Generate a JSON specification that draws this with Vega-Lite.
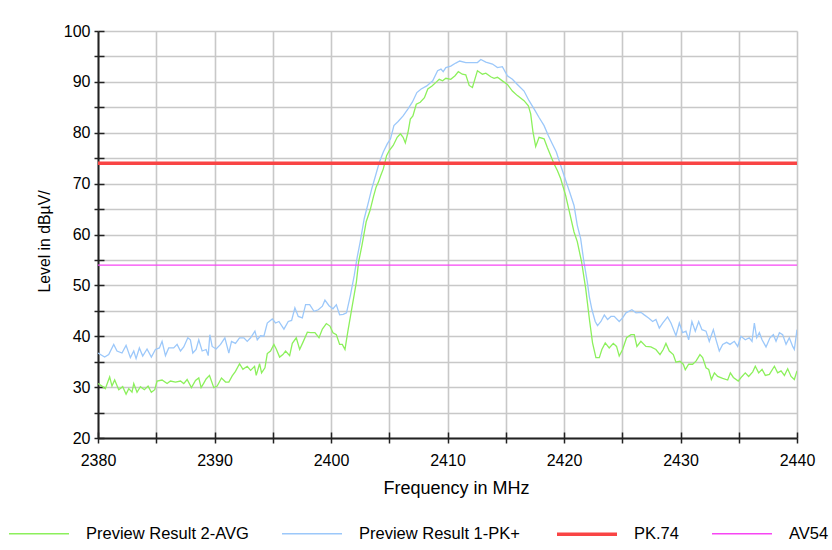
{
  "$schema": "https://vega.github.io/schema/vega-lite/v6.json",
  "width": 699,
  "height": 407,
  "autosize": {"type": "none"},
  "padding": {"left": 98, "top": 31, "right": 35, "bottom": 112},
  "background": "white",
  "config": {
    "view": {"stroke": null},
    "font": "Liberation Sans",
    "axis": {"labelFont": "Liberation Sans", "titleFont": "Liberation Sans", "labelFontSize": 16, "titleFontSize": 16.5, "titleFontWeight": "normal", "labelColor": "black", "titleColor": "black"},
    "legend": {
      "orient": "none", "legendX": -91, "legendY": 471, "direction": "horizontal", "columns": 4,
      "symbolType": "stroke", "symbolSize": 3600, "labelFontSize": 16.5, "labelFont": "Liberation Sans", "labelLimit": 400,
      "labelColor": "black", "columnPadding": 30, "labelOffset": 15, "padding": 0, "title": null
    }
  },
  "datasets": {
    "traces": [
      {"f": 2380.0, "v": 30.7, "s": "Preview Result 2-AVG"},
      {"f": 2380.34, "v": 30.2, "s": "Preview Result 2-AVG"},
      {"f": 2380.63, "v": 29.7, "s": "Preview Result 2-AVG"},
      {"f": 2381.0, "v": 32.0, "s": "Preview Result 2-AVG"},
      {"f": 2381.2, "v": 30.2, "s": "Preview Result 2-AVG"},
      {"f": 2381.43, "v": 31.4, "s": "Preview Result 2-AVG"},
      {"f": 2381.78, "v": 29.5, "s": "Preview Result 2-AVG"},
      {"f": 2382.12, "v": 30.1, "s": "Preview Result 2-AVG"},
      {"f": 2382.41, "v": 28.6, "s": "Preview Result 2-AVG"},
      {"f": 2382.64, "v": 29.7, "s": "Preview Result 2-AVG"},
      {"f": 2382.92, "v": 29.0, "s": "Preview Result 2-AVG"},
      {"f": 2383.07, "v": 30.7, "s": "Preview Result 2-AVG"},
      {"f": 2383.35, "v": 29.0, "s": "Preview Result 2-AVG"},
      {"f": 2383.64, "v": 30.1, "s": "Preview Result 2-AVG"},
      {"f": 2383.98, "v": 29.5, "s": "Preview Result 2-AVG"},
      {"f": 2384.3, "v": 30.2, "s": "Preview Result 2-AVG"},
      {"f": 2384.58, "v": 29.0, "s": "Preview Result 2-AVG"},
      {"f": 2384.87, "v": 29.5, "s": "Preview Result 2-AVG"},
      {"f": 2385.07, "v": 31.2, "s": "Preview Result 2-AVG"},
      {"f": 2385.5, "v": 31.4, "s": "Preview Result 2-AVG"},
      {"f": 2385.93, "v": 30.7, "s": "Preview Result 2-AVG"},
      {"f": 2386.22, "v": 31.2, "s": "Preview Result 2-AVG"},
      {"f": 2386.65, "v": 31.0, "s": "Preview Result 2-AVG"},
      {"f": 2387.08, "v": 31.2, "s": "Preview Result 2-AVG"},
      {"f": 2387.36, "v": 30.7, "s": "Preview Result 2-AVG"},
      {"f": 2387.65, "v": 31.5, "s": "Preview Result 2-AVG"},
      {"f": 2388.02, "v": 29.9, "s": "Preview Result 2-AVG"},
      {"f": 2388.37, "v": 31.3, "s": "Preview Result 2-AVG"},
      {"f": 2388.65, "v": 31.8, "s": "Preview Result 2-AVG"},
      {"f": 2388.85, "v": 29.9, "s": "Preview Result 2-AVG"},
      {"f": 2389.08, "v": 30.8, "s": "Preview Result 2-AVG"},
      {"f": 2389.28, "v": 31.6, "s": "Preview Result 2-AVG"},
      {"f": 2389.57, "v": 32.3, "s": "Preview Result 2-AVG"},
      {"f": 2389.94, "v": 29.9, "s": "Preview Result 2-AVG"},
      {"f": 2390.23, "v": 30.2, "s": "Preview Result 2-AVG"},
      {"f": 2390.6, "v": 31.8, "s": "Preview Result 2-AVG"},
      {"f": 2390.95, "v": 31.0, "s": "Preview Result 2-AVG"},
      {"f": 2391.23, "v": 31.0, "s": "Preview Result 2-AVG"},
      {"f": 2391.52, "v": 32.2, "s": "Preview Result 2-AVG"},
      {"f": 2391.8, "v": 33.1, "s": "Preview Result 2-AVG"},
      {"f": 2392.15, "v": 34.6, "s": "Preview Result 2-AVG"},
      {"f": 2392.44, "v": 33.5, "s": "Preview Result 2-AVG"},
      {"f": 2392.81, "v": 34.1, "s": "Preview Result 2-AVG"},
      {"f": 2393.1, "v": 33.3, "s": "Preview Result 2-AVG"},
      {"f": 2393.44, "v": 34.1, "s": "Preview Result 2-AVG"},
      {"f": 2393.58, "v": 32.3, "s": "Preview Result 2-AVG"},
      {"f": 2393.87, "v": 34.6, "s": "Preview Result 2-AVG"},
      {"f": 2394.04, "v": 32.8, "s": "Preview Result 2-AVG"},
      {"f": 2394.33, "v": 33.8, "s": "Preview Result 2-AVG"},
      {"f": 2394.53, "v": 36.6, "s": "Preview Result 2-AVG"},
      {"f": 2394.81, "v": 37.1, "s": "Preview Result 2-AVG"},
      {"f": 2395.1, "v": 38.4, "s": "Preview Result 2-AVG"},
      {"f": 2395.3, "v": 37.5, "s": "Preview Result 2-AVG"},
      {"f": 2395.59, "v": 35.9, "s": "Preview Result 2-AVG"},
      {"f": 2395.87, "v": 36.4, "s": "Preview Result 2-AVG"},
      {"f": 2396.1, "v": 37.1, "s": "Preview Result 2-AVG"},
      {"f": 2396.45, "v": 36.2, "s": "Preview Result 2-AVG"},
      {"f": 2396.68, "v": 38.6, "s": "Preview Result 2-AVG"},
      {"f": 2397.02, "v": 39.7, "s": "Preview Result 2-AVG"},
      {"f": 2397.31, "v": 37.4, "s": "Preview Result 2-AVG"},
      {"f": 2397.59, "v": 38.8, "s": "Preview Result 2-AVG"},
      {"f": 2397.97, "v": 40.8, "s": "Preview Result 2-AVG"},
      {"f": 2398.25, "v": 40.7, "s": "Preview Result 2-AVG"},
      {"f": 2398.62, "v": 40.7, "s": "Preview Result 2-AVG"},
      {"f": 2398.97, "v": 39.7, "s": "Preview Result 2-AVG"},
      {"f": 2399.26, "v": 41.4, "s": "Preview Result 2-AVG"},
      {"f": 2399.6, "v": 42.5, "s": "Preview Result 2-AVG"},
      {"f": 2399.91, "v": 42.0, "s": "Preview Result 2-AVG"},
      {"f": 2400.17, "v": 40.7, "s": "Preview Result 2-AVG"},
      {"f": 2400.46, "v": 40.3, "s": "Preview Result 2-AVG"},
      {"f": 2400.74, "v": 38.4, "s": "Preview Result 2-AVG"},
      {"f": 2400.97, "v": 38.4, "s": "Preview Result 2-AVG"},
      {"f": 2401.2, "v": 37.4, "s": "Preview Result 2-AVG"},
      {"f": 2401.45, "v": 41.0, "s": "Preview Result 2-AVG"},
      {"f": 2401.75, "v": 45.0, "s": "Preview Result 2-AVG"},
      {"f": 2402.0, "v": 48.3, "s": "Preview Result 2-AVG"},
      {"f": 2402.18, "v": 50.7, "s": "Preview Result 2-AVG"},
      {"f": 2402.37, "v": 54.6, "s": "Preview Result 2-AVG"},
      {"f": 2402.66, "v": 57.9, "s": "Preview Result 2-AVG"},
      {"f": 2403.02, "v": 62.5, "s": "Preview Result 2-AVG"},
      {"f": 2403.36, "v": 64.8, "s": "Preview Result 2-AVG"},
      {"f": 2403.64, "v": 67.4, "s": "Preview Result 2-AVG"},
      {"f": 2403.87, "v": 69.3, "s": "Preview Result 2-AVG"},
      {"f": 2404.07, "v": 70.3, "s": "Preview Result 2-AVG"},
      {"f": 2404.27, "v": 71.6, "s": "Preview Result 2-AVG"},
      {"f": 2404.49, "v": 72.9, "s": "Preview Result 2-AVG"},
      {"f": 2404.77, "v": 75.5, "s": "Preview Result 2-AVG"},
      {"f": 2405.0, "v": 76.5, "s": "Preview Result 2-AVG"},
      {"f": 2405.34, "v": 77.5, "s": "Preview Result 2-AVG"},
      {"f": 2405.68, "v": 79.1, "s": "Preview Result 2-AVG"},
      {"f": 2405.96, "v": 79.8, "s": "Preview Result 2-AVG"},
      {"f": 2406.19, "v": 79.1, "s": "Preview Result 2-AVG"},
      {"f": 2406.38, "v": 78.0, "s": "Preview Result 2-AVG"},
      {"f": 2406.61, "v": 80.1, "s": "Preview Result 2-AVG"},
      {"f": 2406.81, "v": 82.7, "s": "Preview Result 2-AVG"},
      {"f": 2407.03, "v": 83.3, "s": "Preview Result 2-AVG"},
      {"f": 2407.32, "v": 85.6, "s": "Preview Result 2-AVG"},
      {"f": 2407.66, "v": 86.0, "s": "Preview Result 2-AVG"},
      {"f": 2408.02, "v": 86.9, "s": "Preview Result 2-AVG"},
      {"f": 2408.31, "v": 88.6, "s": "Preview Result 2-AVG"},
      {"f": 2408.67, "v": 89.2, "s": "Preview Result 2-AVG"},
      {"f": 2409.01, "v": 89.9, "s": "Preview Result 2-AVG"},
      {"f": 2409.29, "v": 90.5, "s": "Preview Result 2-AVG"},
      {"f": 2409.58, "v": 90.2, "s": "Preview Result 2-AVG"},
      {"f": 2409.86, "v": 90.7, "s": "Preview Result 2-AVG"},
      {"f": 2410.28, "v": 90.5, "s": "Preview Result 2-AVG"},
      {"f": 2410.65, "v": 91.2, "s": "Preview Result 2-AVG"},
      {"f": 2410.93, "v": 92.0, "s": "Preview Result 2-AVG"},
      {"f": 2411.27, "v": 91.5, "s": "Preview Result 2-AVG"},
      {"f": 2411.57, "v": 91.4, "s": "Preview Result 2-AVG"},
      {"f": 2411.86, "v": 89.3, "s": "Preview Result 2-AVG"},
      {"f": 2412.14, "v": 88.9, "s": "Preview Result 2-AVG"},
      {"f": 2412.57, "v": 92.2, "s": "Preview Result 2-AVG"},
      {"f": 2413.0, "v": 91.5, "s": "Preview Result 2-AVG"},
      {"f": 2413.29, "v": 91.7, "s": "Preview Result 2-AVG"},
      {"f": 2413.71, "v": 91.0, "s": "Preview Result 2-AVG"},
      {"f": 2414.0, "v": 90.7, "s": "Preview Result 2-AVG"},
      {"f": 2414.29, "v": 90.9, "s": "Preview Result 2-AVG"},
      {"f": 2414.71, "v": 90.2, "s": "Preview Result 2-AVG"},
      {"f": 2415.14, "v": 89.5, "s": "Preview Result 2-AVG"},
      {"f": 2415.57, "v": 88.2, "s": "Preview Result 2-AVG"},
      {"f": 2416.0, "v": 87.3, "s": "Preview Result 2-AVG"},
      {"f": 2416.57, "v": 86.3, "s": "Preview Result 2-AVG"},
      {"f": 2416.94, "v": 85.3, "s": "Preview Result 2-AVG"},
      {"f": 2417.14, "v": 83.7, "s": "Preview Result 2-AVG"},
      {"f": 2417.34, "v": 80.1, "s": "Preview Result 2-AVG"},
      {"f": 2417.57, "v": 77.3, "s": "Preview Result 2-AVG"},
      {"f": 2417.86, "v": 79.1, "s": "Preview Result 2-AVG"},
      {"f": 2418.29, "v": 78.8, "s": "Preview Result 2-AVG"},
      {"f": 2418.57, "v": 77.1, "s": "Preview Result 2-AVG"},
      {"f": 2418.86, "v": 75.5, "s": "Preview Result 2-AVG"},
      {"f": 2419.14, "v": 73.9, "s": "Preview Result 2-AVG"},
      {"f": 2419.43, "v": 72.6, "s": "Preview Result 2-AVG"},
      {"f": 2419.71, "v": 71.0, "s": "Preview Result 2-AVG"},
      {"f": 2420.14, "v": 67.7, "s": "Preview Result 2-AVG"},
      {"f": 2420.43, "v": 64.8, "s": "Preview Result 2-AVG"},
      {"f": 2420.86, "v": 60.5, "s": "Preview Result 2-AVG"},
      {"f": 2421.14, "v": 58.6, "s": "Preview Result 2-AVG"},
      {"f": 2421.51, "v": 54.6, "s": "Preview Result 2-AVG"},
      {"f": 2421.86, "v": 49.4, "s": "Preview Result 2-AVG"},
      {"f": 2422.2, "v": 43.0, "s": "Preview Result 2-AVG"},
      {"f": 2422.45, "v": 38.7, "s": "Preview Result 2-AVG"},
      {"f": 2422.74, "v": 35.8, "s": "Preview Result 2-AVG"},
      {"f": 2423.03, "v": 35.8, "s": "Preview Result 2-AVG"},
      {"f": 2423.25, "v": 37.4, "s": "Preview Result 2-AVG"},
      {"f": 2423.54, "v": 38.7, "s": "Preview Result 2-AVG"},
      {"f": 2423.88, "v": 37.7, "s": "Preview Result 2-AVG"},
      {"f": 2424.23, "v": 38.6, "s": "Preview Result 2-AVG"},
      {"f": 2424.51, "v": 38.0, "s": "Preview Result 2-AVG"},
      {"f": 2424.74, "v": 36.1, "s": "Preview Result 2-AVG"},
      {"f": 2425.03, "v": 37.4, "s": "Preview Result 2-AVG"},
      {"f": 2425.37, "v": 39.7, "s": "Preview Result 2-AVG"},
      {"f": 2425.75, "v": 40.3, "s": "Preview Result 2-AVG"},
      {"f": 2426.03, "v": 40.3, "s": "Preview Result 2-AVG"},
      {"f": 2426.26, "v": 38.0, "s": "Preview Result 2-AVG"},
      {"f": 2426.6, "v": 39.0, "s": "Preview Result 2-AVG"},
      {"f": 2427.03, "v": 38.0, "s": "Preview Result 2-AVG"},
      {"f": 2427.46, "v": 37.9, "s": "Preview Result 2-AVG"},
      {"f": 2427.89, "v": 37.4, "s": "Preview Result 2-AVG"},
      {"f": 2428.24, "v": 36.4, "s": "Preview Result 2-AVG"},
      {"f": 2428.52, "v": 37.4, "s": "Preview Result 2-AVG"},
      {"f": 2428.75, "v": 38.6, "s": "Preview Result 2-AVG"},
      {"f": 2429.04, "v": 37.1, "s": "Preview Result 2-AVG"},
      {"f": 2429.38, "v": 36.4, "s": "Preview Result 2-AVG"},
      {"f": 2429.61, "v": 34.9, "s": "Preview Result 2-AVG"},
      {"f": 2429.95, "v": 35.1, "s": "Preview Result 2-AVG"},
      {"f": 2430.24, "v": 34.5, "s": "Preview Result 2-AVG"},
      {"f": 2430.41, "v": 33.4, "s": "Preview Result 2-AVG"},
      {"f": 2430.7, "v": 34.5, "s": "Preview Result 2-AVG"},
      {"f": 2431.04, "v": 34.5, "s": "Preview Result 2-AVG"},
      {"f": 2431.33, "v": 35.1, "s": "Preview Result 2-AVG"},
      {"f": 2431.67, "v": 36.4, "s": "Preview Result 2-AVG"},
      {"f": 2431.9, "v": 35.8, "s": "Preview Result 2-AVG"},
      {"f": 2432.19, "v": 33.8, "s": "Preview Result 2-AVG"},
      {"f": 2432.42, "v": 33.5, "s": "Preview Result 2-AVG"},
      {"f": 2432.65, "v": 31.5, "s": "Preview Result 2-AVG"},
      {"f": 2432.91, "v": 32.8, "s": "Preview Result 2-AVG"},
      {"f": 2433.19, "v": 32.1, "s": "Preview Result 2-AVG"},
      {"f": 2433.62, "v": 31.7, "s": "Preview Result 2-AVG"},
      {"f": 2434.05, "v": 31.4, "s": "Preview Result 2-AVG"},
      {"f": 2434.28, "v": 32.8, "s": "Preview Result 2-AVG"},
      {"f": 2434.54, "v": 31.9, "s": "Preview Result 2-AVG"},
      {"f": 2434.96, "v": 31.2, "s": "Preview Result 2-AVG"},
      {"f": 2435.28, "v": 32.1, "s": "Preview Result 2-AVG"},
      {"f": 2435.56, "v": 32.8, "s": "Preview Result 2-AVG"},
      {"f": 2435.85, "v": 32.1, "s": "Preview Result 2-AVG"},
      {"f": 2436.2, "v": 33.0, "s": "Preview Result 2-AVG"},
      {"f": 2436.42, "v": 34.1, "s": "Preview Result 2-AVG"},
      {"f": 2436.71, "v": 32.8, "s": "Preview Result 2-AVG"},
      {"f": 2437.0, "v": 33.5, "s": "Preview Result 2-AVG"},
      {"f": 2437.28, "v": 32.3, "s": "Preview Result 2-AVG"},
      {"f": 2437.63, "v": 32.5, "s": "Preview Result 2-AVG"},
      {"f": 2438.06, "v": 34.1, "s": "Preview Result 2-AVG"},
      {"f": 2438.34, "v": 32.8, "s": "Preview Result 2-AVG"},
      {"f": 2438.63, "v": 33.2, "s": "Preview Result 2-AVG"},
      {"f": 2438.92, "v": 32.3, "s": "Preview Result 2-AVG"},
      {"f": 2439.2, "v": 33.6, "s": "Preview Result 2-AVG"},
      {"f": 2439.49, "v": 32.1, "s": "Preview Result 2-AVG"},
      {"f": 2439.77, "v": 31.5, "s": "Preview Result 2-AVG"},
      {"f": 2440.0, "v": 33.2, "s": "Preview Result 2-AVG"},

      {"f": 2380.0, "v": 36.7, "s": "Preview Result 1-PK+"},
      {"f": 2380.57, "v": 35.9, "s": "Preview Result 1-PK+"},
      {"f": 2380.92, "v": 36.4, "s": "Preview Result 1-PK+"},
      {"f": 2381.35, "v": 38.4, "s": "Preview Result 1-PK+"},
      {"f": 2381.63, "v": 37.1, "s": "Preview Result 1-PK+"},
      {"f": 2382.06, "v": 36.7, "s": "Preview Result 1-PK+"},
      {"f": 2382.41, "v": 38.2, "s": "Preview Result 1-PK+"},
      {"f": 2382.78, "v": 35.8, "s": "Preview Result 1-PK+"},
      {"f": 2383.07, "v": 37.1, "s": "Preview Result 1-PK+"},
      {"f": 2383.27, "v": 35.6, "s": "Preview Result 1-PK+"},
      {"f": 2383.55, "v": 37.7, "s": "Preview Result 1-PK+"},
      {"f": 2383.84, "v": 36.1, "s": "Preview Result 1-PK+"},
      {"f": 2384.21, "v": 37.5, "s": "Preview Result 1-PK+"},
      {"f": 2384.58, "v": 35.9, "s": "Preview Result 1-PK+"},
      {"f": 2384.93, "v": 37.4, "s": "Preview Result 1-PK+"},
      {"f": 2385.27, "v": 37.7, "s": "Preview Result 1-PK+"},
      {"f": 2385.5, "v": 39.0, "s": "Preview Result 1-PK+"},
      {"f": 2385.79, "v": 36.2, "s": "Preview Result 1-PK+"},
      {"f": 2386.07, "v": 37.7, "s": "Preview Result 1-PK+"},
      {"f": 2386.5, "v": 37.7, "s": "Preview Result 1-PK+"},
      {"f": 2386.79, "v": 38.4, "s": "Preview Result 1-PK+"},
      {"f": 2387.08, "v": 37.1, "s": "Preview Result 1-PK+"},
      {"f": 2387.36, "v": 37.9, "s": "Preview Result 1-PK+"},
      {"f": 2387.71, "v": 39.7, "s": "Preview Result 1-PK+"},
      {"f": 2387.93, "v": 39.3, "s": "Preview Result 1-PK+"},
      {"f": 2388.14, "v": 36.7, "s": "Preview Result 1-PK+"},
      {"f": 2388.42, "v": 37.4, "s": "Preview Result 1-PK+"},
      {"f": 2388.65, "v": 39.3, "s": "Preview Result 1-PK+"},
      {"f": 2388.94, "v": 37.1, "s": "Preview Result 1-PK+"},
      {"f": 2389.28, "v": 37.4, "s": "Preview Result 1-PK+"},
      {"f": 2389.46, "v": 36.2, "s": "Preview Result 1-PK+"},
      {"f": 2389.6, "v": 40.3, "s": "Preview Result 1-PK+"},
      {"f": 2389.8, "v": 38.0, "s": "Preview Result 1-PK+"},
      {"f": 2390.14, "v": 37.5, "s": "Preview Result 1-PK+"},
      {"f": 2390.52, "v": 38.4, "s": "Preview Result 1-PK+"},
      {"f": 2390.89, "v": 39.7, "s": "Preview Result 1-PK+"},
      {"f": 2391.23, "v": 36.7, "s": "Preview Result 1-PK+"},
      {"f": 2391.46, "v": 39.0, "s": "Preview Result 1-PK+"},
      {"f": 2391.8, "v": 38.6, "s": "Preview Result 1-PK+"},
      {"f": 2392.15, "v": 39.7, "s": "Preview Result 1-PK+"},
      {"f": 2392.52, "v": 39.7, "s": "Preview Result 1-PK+"},
      {"f": 2392.81, "v": 39.0, "s": "Preview Result 1-PK+"},
      {"f": 2393.1, "v": 39.7, "s": "Preview Result 1-PK+"},
      {"f": 2393.47, "v": 41.0, "s": "Preview Result 1-PK+"},
      {"f": 2393.67, "v": 39.3, "s": "Preview Result 1-PK+"},
      {"f": 2393.95, "v": 40.1, "s": "Preview Result 1-PK+"},
      {"f": 2394.24, "v": 40.0, "s": "Preview Result 1-PK+"},
      {"f": 2394.53, "v": 42.6, "s": "Preview Result 1-PK+"},
      {"f": 2394.96, "v": 43.4, "s": "Preview Result 1-PK+"},
      {"f": 2395.24, "v": 42.6, "s": "Preview Result 1-PK+"},
      {"f": 2395.53, "v": 42.9, "s": "Preview Result 1-PK+"},
      {"f": 2395.96, "v": 41.4, "s": "Preview Result 1-PK+"},
      {"f": 2396.33, "v": 42.9, "s": "Preview Result 1-PK+"},
      {"f": 2396.62, "v": 43.1, "s": "Preview Result 1-PK+"},
      {"f": 2396.9, "v": 45.6, "s": "Preview Result 1-PK+"},
      {"f": 2397.19, "v": 43.9, "s": "Preview Result 1-PK+"},
      {"f": 2397.54, "v": 43.6, "s": "Preview Result 1-PK+"},
      {"f": 2397.82, "v": 46.2, "s": "Preview Result 1-PK+"},
      {"f": 2398.17, "v": 46.2, "s": "Preview Result 1-PK+"},
      {"f": 2398.54, "v": 44.9, "s": "Preview Result 1-PK+"},
      {"f": 2398.91, "v": 45.2, "s": "Preview Result 1-PK+"},
      {"f": 2399.26, "v": 45.9, "s": "Preview Result 1-PK+"},
      {"f": 2399.48, "v": 47.1, "s": "Preview Result 1-PK+"},
      {"f": 2399.83, "v": 46.0, "s": "Preview Result 1-PK+"},
      {"f": 2400.17, "v": 45.4, "s": "Preview Result 1-PK+"},
      {"f": 2400.46, "v": 46.2, "s": "Preview Result 1-PK+"},
      {"f": 2400.74, "v": 44.2, "s": "Preview Result 1-PK+"},
      {"f": 2401.05, "v": 44.3, "s": "Preview Result 1-PK+"},
      {"f": 2401.33, "v": 44.6, "s": "Preview Result 1-PK+"},
      {"f": 2401.67, "v": 48.1, "s": "Preview Result 1-PK+"},
      {"f": 2402.0, "v": 52.0, "s": "Preview Result 1-PK+"},
      {"f": 2402.23, "v": 55.3, "s": "Preview Result 1-PK+"},
      {"f": 2402.51, "v": 58.6, "s": "Preview Result 1-PK+"},
      {"f": 2402.85, "v": 63.1, "s": "Preview Result 1-PK+"},
      {"f": 2403.22, "v": 66.4, "s": "Preview Result 1-PK+"},
      {"f": 2403.5, "v": 69.0, "s": "Preview Result 1-PK+"},
      {"f": 2403.79, "v": 71.3, "s": "Preview Result 1-PK+"},
      {"f": 2404.15, "v": 74.2, "s": "Preview Result 1-PK+"},
      {"f": 2404.49, "v": 76.2, "s": "Preview Result 1-PK+"},
      {"f": 2404.83, "v": 77.8, "s": "Preview Result 1-PK+"},
      {"f": 2405.11, "v": 78.8, "s": "Preview Result 1-PK+"},
      {"f": 2405.4, "v": 81.4, "s": "Preview Result 1-PK+"},
      {"f": 2405.76, "v": 82.2, "s": "Preview Result 1-PK+"},
      {"f": 2406.19, "v": 83.3, "s": "Preview Result 1-PK+"},
      {"f": 2406.61, "v": 84.7, "s": "Preview Result 1-PK+"},
      {"f": 2406.98, "v": 86.0, "s": "Preview Result 1-PK+"},
      {"f": 2407.37, "v": 87.9, "s": "Preview Result 1-PK+"},
      {"f": 2407.74, "v": 88.6, "s": "Preview Result 1-PK+"},
      {"f": 2408.22, "v": 89.2, "s": "Preview Result 1-PK+"},
      {"f": 2408.73, "v": 90.2, "s": "Preview Result 1-PK+"},
      {"f": 2409.15, "v": 92.2, "s": "Preview Result 1-PK+"},
      {"f": 2409.44, "v": 92.5, "s": "Preview Result 1-PK+"},
      {"f": 2409.63, "v": 92.0, "s": "Preview Result 1-PK+"},
      {"f": 2409.86, "v": 92.8, "s": "Preview Result 1-PK+"},
      {"f": 2410.28, "v": 93.1, "s": "Preview Result 1-PK+"},
      {"f": 2410.71, "v": 93.7, "s": "Preview Result 1-PK+"},
      {"f": 2411.05, "v": 94.1, "s": "Preview Result 1-PK+"},
      {"f": 2411.57, "v": 93.8, "s": "Preview Result 1-PK+"},
      {"f": 2412.57, "v": 93.8, "s": "Preview Result 1-PK+"},
      {"f": 2412.86, "v": 94.4, "s": "Preview Result 1-PK+"},
      {"f": 2413.29, "v": 93.9, "s": "Preview Result 1-PK+"},
      {"f": 2413.86, "v": 93.5, "s": "Preview Result 1-PK+"},
      {"f": 2414.29, "v": 92.8, "s": "Preview Result 1-PK+"},
      {"f": 2414.71, "v": 93.0, "s": "Preview Result 1-PK+"},
      {"f": 2415.14, "v": 91.2, "s": "Preview Result 1-PK+"},
      {"f": 2415.57, "v": 90.5, "s": "Preview Result 1-PK+"},
      {"f": 2416.0, "v": 89.5, "s": "Preview Result 1-PK+"},
      {"f": 2416.57, "v": 88.2, "s": "Preview Result 1-PK+"},
      {"f": 2417.0, "v": 86.3, "s": "Preview Result 1-PK+"},
      {"f": 2417.43, "v": 84.7, "s": "Preview Result 1-PK+"},
      {"f": 2417.86, "v": 83.0, "s": "Preview Result 1-PK+"},
      {"f": 2418.29, "v": 81.4, "s": "Preview Result 1-PK+"},
      {"f": 2418.66, "v": 79.4, "s": "Preview Result 1-PK+"},
      {"f": 2419.0, "v": 77.8, "s": "Preview Result 1-PK+"},
      {"f": 2419.34, "v": 76.2, "s": "Preview Result 1-PK+"},
      {"f": 2419.71, "v": 73.6, "s": "Preview Result 1-PK+"},
      {"f": 2420.09, "v": 71.0, "s": "Preview Result 1-PK+"},
      {"f": 2420.49, "v": 68.3, "s": "Preview Result 1-PK+"},
      {"f": 2420.86, "v": 65.7, "s": "Preview Result 1-PK+"},
      {"f": 2421.14, "v": 61.8, "s": "Preview Result 1-PK+"},
      {"f": 2421.43, "v": 59.2, "s": "Preview Result 1-PK+"},
      {"f": 2421.71, "v": 54.6, "s": "Preview Result 1-PK+"},
      {"f": 2422.0, "v": 50.7, "s": "Preview Result 1-PK+"},
      {"f": 2422.17, "v": 47.8, "s": "Preview Result 1-PK+"},
      {"f": 2422.4, "v": 45.2, "s": "Preview Result 1-PK+"},
      {"f": 2422.68, "v": 42.9, "s": "Preview Result 1-PK+"},
      {"f": 2422.88, "v": 42.1, "s": "Preview Result 1-PK+"},
      {"f": 2423.17, "v": 42.9, "s": "Preview Result 1-PK+"},
      {"f": 2423.46, "v": 44.2, "s": "Preview Result 1-PK+"},
      {"f": 2423.74, "v": 43.3, "s": "Preview Result 1-PK+"},
      {"f": 2424.03, "v": 43.9, "s": "Preview Result 1-PK+"},
      {"f": 2424.31, "v": 43.9, "s": "Preview Result 1-PK+"},
      {"f": 2424.74, "v": 42.9, "s": "Preview Result 1-PK+"},
      {"f": 2425.03, "v": 43.6, "s": "Preview Result 1-PK+"},
      {"f": 2425.32, "v": 44.6, "s": "Preview Result 1-PK+"},
      {"f": 2425.83, "v": 45.2, "s": "Preview Result 1-PK+"},
      {"f": 2426.18, "v": 44.6, "s": "Preview Result 1-PK+"},
      {"f": 2426.6, "v": 44.7, "s": "Preview Result 1-PK+"},
      {"f": 2426.89, "v": 44.2, "s": "Preview Result 1-PK+"},
      {"f": 2427.26, "v": 43.6, "s": "Preview Result 1-PK+"},
      {"f": 2427.61, "v": 42.9, "s": "Preview Result 1-PK+"},
      {"f": 2427.89, "v": 43.3, "s": "Preview Result 1-PK+"},
      {"f": 2428.18, "v": 41.6, "s": "Preview Result 1-PK+"},
      {"f": 2428.47, "v": 42.6, "s": "Preview Result 1-PK+"},
      {"f": 2428.89, "v": 43.8, "s": "Preview Result 1-PK+"},
      {"f": 2429.18, "v": 42.6, "s": "Preview Result 1-PK+"},
      {"f": 2429.61, "v": 40.1, "s": "Preview Result 1-PK+"},
      {"f": 2429.9, "v": 42.6, "s": "Preview Result 1-PK+"},
      {"f": 2430.18, "v": 40.7, "s": "Preview Result 1-PK+"},
      {"f": 2430.47, "v": 41.0, "s": "Preview Result 1-PK+"},
      {"f": 2430.7, "v": 39.3, "s": "Preview Result 1-PK+"},
      {"f": 2430.98, "v": 42.9, "s": "Preview Result 1-PK+"},
      {"f": 2431.27, "v": 41.0, "s": "Preview Result 1-PK+"},
      {"f": 2431.56, "v": 42.9, "s": "Preview Result 1-PK+"},
      {"f": 2431.84, "v": 41.3, "s": "Preview Result 1-PK+"},
      {"f": 2432.19, "v": 41.0, "s": "Preview Result 1-PK+"},
      {"f": 2432.47, "v": 39.0, "s": "Preview Result 1-PK+"},
      {"f": 2432.82, "v": 41.3, "s": "Preview Result 1-PK+"},
      {"f": 2433.05, "v": 39.3, "s": "Preview Result 1-PK+"},
      {"f": 2433.33, "v": 37.1, "s": "Preview Result 1-PK+"},
      {"f": 2433.62, "v": 38.4, "s": "Preview Result 1-PK+"},
      {"f": 2433.96, "v": 38.8, "s": "Preview Result 1-PK+"},
      {"f": 2434.25, "v": 38.4, "s": "Preview Result 1-PK+"},
      {"f": 2434.62, "v": 39.0, "s": "Preview Result 1-PK+"},
      {"f": 2434.91, "v": 38.0, "s": "Preview Result 1-PK+"},
      {"f": 2435.19, "v": 40.0, "s": "Preview Result 1-PK+"},
      {"f": 2435.56, "v": 39.3, "s": "Preview Result 1-PK+"},
      {"f": 2435.9, "v": 39.7, "s": "Preview Result 1-PK+"},
      {"f": 2436.14, "v": 39.0, "s": "Preview Result 1-PK+"},
      {"f": 2436.34, "v": 42.6, "s": "Preview Result 1-PK+"},
      {"f": 2436.54, "v": 39.7, "s": "Preview Result 1-PK+"},
      {"f": 2436.77, "v": 40.7, "s": "Preview Result 1-PK+"},
      {"f": 2437.0, "v": 39.3, "s": "Preview Result 1-PK+"},
      {"f": 2437.34, "v": 37.9, "s": "Preview Result 1-PK+"},
      {"f": 2437.68, "v": 39.7, "s": "Preview Result 1-PK+"},
      {"f": 2437.97, "v": 40.3, "s": "Preview Result 1-PK+"},
      {"f": 2438.2, "v": 39.0, "s": "Preview Result 1-PK+"},
      {"f": 2438.49, "v": 40.7, "s": "Preview Result 1-PK+"},
      {"f": 2438.77, "v": 40.3, "s": "Preview Result 1-PK+"},
      {"f": 2439.06, "v": 38.4, "s": "Preview Result 1-PK+"},
      {"f": 2439.34, "v": 39.7, "s": "Preview Result 1-PK+"},
      {"f": 2439.63, "v": 38.0, "s": "Preview Result 1-PK+"},
      {"f": 2439.77, "v": 37.4, "s": "Preview Result 1-PK+"},
      {"f": 2440.0, "v": 41.3, "s": "Preview Result 1-PK+"}
    ],
    "limits": [
      {"f": 2380, "v": 74, "s": "PK.74"},
      {"f": 2440, "v": 74, "s": "PK.74"},
      {"f": 2380, "v": 54, "s": "AV54"},
      {"f": 2440, "v": 54, "s": "AV54"}
    ]
  },
  "encoding": {
    "x": {"field": "f", "type": "quantitative", "scale": {"domain": [2380, 2440], "nice": false, "zero": false}},
    "y": {"field": "v", "type": "quantitative", "scale": {"domain": [20, 100], "nice": false, "zero": false}},
    "color": {
      "field": "s", "type": "ordinal",
      "scale": {"type": "ordinal", "domain": ["Preview Result 2-AVG", "Preview Result 1-PK+", "PK.74", "AV54"], "range": ["#8cf05c", "#9cc8fa", "#f94444", "#f746f4"]},
      "legend": {"title": null}
    },
    "strokeWidth": {
      "field": "s", "type": "ordinal",
      "scale": {"type": "ordinal", "domain": ["Preview Result 2-AVG", "Preview Result 1-PK+", "PK.74", "AV54"], "range": [1.3, 1.3, 3.5, 1.3]},
      "legend": {"title": null}
    }
  },
  "layer": [
    {
      "data": {"name": "traces"},
      "mark": {"type": "line", "clip": true},
      "encoding": {
        "x": {"field": "f", "type": "quantitative", "axis": {
          "orient": "bottom", "title": "Frequency in MHz", "titleFontSize": 18, "titleX": 358, "values": [2380,2385,2390,2395,2400,2405,2410,2415,2420,2425,2430,2435,2440],
          "labelExpr": "datum.value % 10 === 0 ? datum.label : ''", "format": "d",
          "grid": true, "gridColor": "#c8c8c8", "gridWidth": 1.6, "gridOpacity": 1,
          "domainColor": "#222", "domainWidth": 2, "tickColor": "#222", "tickWidth": 1.5, "tickSize": 5,
          "labelPadding": 9, "titlePadding": 11, "labelFlush": false, "labelOverlap": false
        }},
        "y": {"field": "v", "type": "quantitative", "axis": {
          "orient": "left", "title": "Level in dBµV/", "titleFontSize": 15.8, "titleY": 210, "values": [20,25,30,35,40,45,50,55,60,65,70,75,80,85,90,95,100],
          "labelExpr": "datum.value % 10 === 0 ? datum.label : ''",
          "grid": true, "gridColor": "#c8c8c8", "gridWidth": 1.6, "gridOpacity": 1,
          "domainColor": "#222", "domainWidth": 2, "tickColor": "#222", "tickWidth": 1.5, "tickSize": 4,
          "labelPadding": 4, "titlePadding": 11, "labelFlush": false, "labelOverlap": false
        }}
      }
    },
    {
      "data": {"name": "limits"},
      "mark": {"type": "line", "clip": true},
      "encoding": {
        "x": {"field": "f", "type": "quantitative", "axis": {
          "orient": "bottom", "title": null, "values": [2380,2385,2390,2395,2400,2405,2410,2415,2420,2425,2430,2435,2440],
          "labels": false, "grid": false, "domain": false, "tickColor": "#222", "tickWidth": 1.5, "tickSize": -6
        }},
        "y": {"field": "v", "type": "quantitative", "axis": {
          "orient": "left", "title": null, "values": [20,25,30,35,40,45,50,55,60,65,70,75,80,85,90,95,100],
          "labels": false, "grid": false, "domain": false, "tickColor": "#222", "tickWidth": 1.5, "tickSize": -6
        }}
      }
    }
  ],
  "resolve": {"axis": {"x": "independent", "y": "independent"}}
}
